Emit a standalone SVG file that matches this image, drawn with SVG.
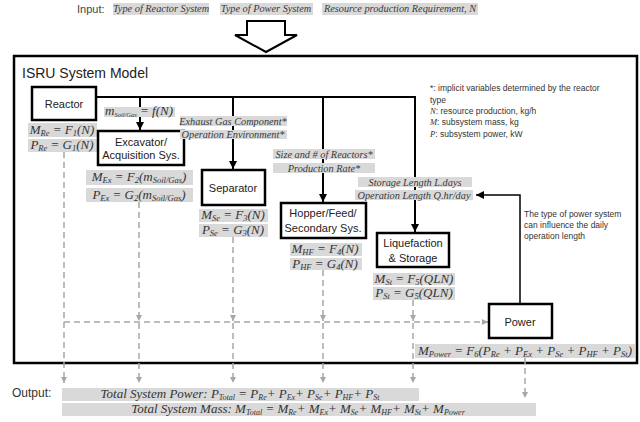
<svg xmlns="http://www.w3.org/2000/svg" width="640" height="422" viewBox="0 0 640 422">
<defs>
<style>
.bx{fill:#fff;stroke:#000;stroke-width:2.5}
.nt{font-family:"Liberation Sans","Open Sans",sans-serif;font-size:11px;fill:#222;text-anchor:middle}
.gl{fill:#d9d9d9}
.f{font-family:"Liberation Serif","DejaVu Serif",serif;font-style:italic;font-size:13px;fill:#333;text-anchor:middle}
.s{font-size:8.5px}
.fs{font-family:"Liberation Serif","DejaVu Serif",serif;font-style:italic;font-size:10.3px;fill:#3a3a3a;text-anchor:middle}
.lg{font-family:"Liberation Sans","Open Sans",sans-serif;font-size:8.5px;fill:#333}
.conn{stroke:#000;stroke-width:2;fill:none}
.dash{stroke:#a6a6a6;stroke-width:1.5;stroke-dasharray:6 4;fill:none}
</style>
<marker id="ah" markerUnits="userSpaceOnUse" markerWidth="8" markerHeight="8" refX="8" refY="4" orient="auto"><path d="M0,0 L8,4 L0,8 z" fill="#000"/></marker>
<marker id="gh" markerUnits="userSpaceOnUse" markerWidth="6" markerHeight="6" refX="6" refY="3" orient="auto"><path d="M0,0 L6,3 L0,6 z" fill="#a6a6a6"/></marker>
</defs>
<rect width="640" height="422" fill="#fff"/>

<g id="input">
<text x="77" y="13" font-family="Liberation Sans, Open Sans, sans-serif" font-size="11" fill="#444">Input:</text>
<rect class="gl" x="113" y="3" width="96" height="12"/>
<text class="fs" x="161" y="12" font-size="9.5">Type of Reactor System</text>
<rect class="gl" x="220" y="3" width="93" height="12"/>
<text class="fs" x="266" y="12" font-size="9.5">Type of Power System</text>
<rect class="gl" x="322" y="3" width="156" height="12"/>
<text class="fs" x="400" y="12" font-size="9.5">Resource production Requirement, N</text>
<path d="M247,21 H285 V35 H297 L266,52 L235,35 H247 Z" fill="#fff" stroke="#000" stroke-width="2"/>
</g>

<g id="model">
<rect x="14" y="56" width="623" height="307" fill="#fff" stroke="#000" stroke-width="2.5"/>
<text x="22" y="78" font-family="Liberation Sans, Open Sans, sans-serif" font-size="14" fill="#222">ISRU System Model</text>
<text class="lg" x="430" y="91">*: implicit variables determined by the reactor</text>
<text class="lg" x="430" y="103">type</text>
<text class="lg" x="430" y="114"><tspan font-family="Liberation Serif, serif" font-style="italic">N</tspan>: resource production, kg/h</text>
<text class="lg" x="430" y="125"><tspan font-family="Liberation Serif, serif" font-style="italic">M</tspan>: subsystem mass, kg</text>
<text class="lg" x="430" y="137"><tspan font-family="Liberation Serif, serif" font-style="italic">P</tspan>: subsystem power, kW</text>
<text class="lg" x="524" y="217">The type of power system</text>
<text class="lg" x="524" y="228">can influence the daily</text>
<text class="lg" x="524" y="239">operation length</text>
</g>

<g id="connectors">
<path class="conn" d="M96,97 H415 V232" marker-end="url(#ah)"/>
<path class="conn" d="M140,97 V130" marker-end="url(#ah)"/>
<path class="conn" d="M233,97 V169" marker-end="url(#ah)"/>
<path class="conn" d="M323,97 V202" marker-end="url(#ah)"/>
<path d="M520,304 V195 H476" fill="none" stroke="#000" stroke-width="1.5" marker-end="url(#ah)"/>
<path class="dash" d="M64,152 V383" marker-end="url(#gh)"/>
<path class="dash" d="M64,322 H488" marker-end="url(#gh)"/>
<path class="dash" d="M139,202 V321" marker-end="url(#gh)"/>
<path class="dash" d="M139,323 V383" marker-end="url(#gh)"/>
<path class="dash" d="M233,237 V321" marker-end="url(#gh)"/>
<path class="dash" d="M233,323 V383" marker-end="url(#gh)"/>
<path class="dash" d="M323,270 V321" marker-end="url(#gh)"/>
<path class="dash" d="M323,323 V383" marker-end="url(#gh)"/>
<path class="dash" d="M413,300 V321" marker-end="url(#gh)"/>
<path class="dash" d="M413,323 V383" marker-end="url(#gh)"/>
<path class="dash" d="M525,358 V398" marker-end="url(#gh)"/>
</g>

<g id="reactor">
<rect class="bx" x="32" y="87" width="64" height="33"/>
<text class="nt" x="64" y="108">Reactor</text>
<rect class="gl" x="28" y="123" width="69" height="14"/>
<text class="f" x="62" y="133.5">M<tspan class="s" dy="2">Re</tspan><tspan dy="-2"> = F</tspan><tspan class="s" dy="2">1</tspan><tspan dy="-2">(N)</tspan></text>
<rect class="gl" x="28" y="139" width="69" height="13"/>
<text class="f" x="62" y="149">P<tspan class="s" dy="2">Re</tspan><tspan dy="-2"> = G</tspan><tspan class="s" dy="2">1</tspan><tspan dy="-2">(N)</tspan></text>
</g>

<g id="soilgas-label">
<rect class="gl" x="104" y="107" width="71" height="10"/>
<text class="f" x="139" y="115" font-size="10">m<tspan font-size="6.5" dy="1.5">Soil/Gas</tspan><tspan dy="-1.5"> = f(N)</tspan></text>
</g>

<g id="excavator">
<rect class="bx" x="98" y="131" width="86" height="34"/>
<text class="nt" x="141" y="146">Excavator/</text>
<text class="nt" x="141" y="159">Acquisition Sys.</text>
<rect class="gl" x="86" y="170" width="107" height="15"/>
<text class="f" x="139" y="181">M<tspan class="s" dy="2">Ex</tspan><tspan dy="-2"> = F</tspan><tspan class="s" dy="2">2</tspan><tspan dy="-2">(m</tspan><tspan class="s" dy="2">Soil/Gas</tspan><tspan dy="-2">)</tspan></text>
<rect class="gl" x="86" y="188" width="107" height="14"/>
<text class="f" x="139" y="198.5">P<tspan class="s" dy="2">Ex</tspan><tspan dy="-2"> = G</tspan><tspan class="s" dy="2">2</tspan><tspan dy="-2">(m</tspan><tspan class="s" dy="2">Soil/Gas</tspan><tspan dy="-2">)</tspan></text>
</g>

<g id="separator">
<rect class="gl" x="180" y="116" width="107" height="10"/>
<text class="fs" x="233" y="124.5">Exhaust Gas Component*</text>
<rect class="gl" x="180" y="130" width="107" height="9"/>
<text class="fs" x="233" y="138">Operation Environment*</text>
<rect class="bx" x="202" y="170" width="63" height="35"/>
<text class="nt" x="233" y="192">Separator</text>
<rect class="gl" x="199" y="209" width="69" height="13"/>
<text class="f" x="233" y="219">M<tspan class="s" dy="2">Se</tspan><tspan dy="-2"> = F</tspan><tspan class="s" dy="2">3</tspan><tspan dy="-2">(N)</tspan></text>
<rect class="gl" x="199" y="224" width="69" height="13"/>
<text class="f" x="233" y="234">P<tspan class="s" dy="2">Se</tspan><tspan dy="-2"> = G</tspan><tspan class="s" dy="2">3</tspan><tspan dy="-2">(N)</tspan></text>
</g>

<g id="hopper">
<rect class="gl" x="273" y="149" width="102" height="10"/>
<text class="fs" x="324" y="157.5">Size and # of Reactors*</text>
<rect class="gl" x="273" y="163" width="102" height="10"/>
<text class="fs" x="324" y="171.5">Production Rate*</text>
<rect class="bx" x="281" y="203" width="85" height="35"/>
<text class="nt" x="323" y="217">Hopper/Feed/</text>
<text class="nt" x="323" y="232">Secondary Sys.</text>
<rect class="gl" x="290" y="243" width="72" height="13"/>
<text class="f" x="325" y="253">M<tspan class="s" dy="2">HF</tspan><tspan dy="-2"> = F</tspan><tspan class="s" dy="2">4</tspan><tspan dy="-2">(N)</tspan></text>
<rect class="gl" x="290" y="258" width="72" height="12"/>
<text class="f" x="325" y="267.5">P<tspan class="s" dy="2">HF</tspan><tspan dy="-2"> = G</tspan><tspan class="s" dy="2">4</tspan><tspan dy="-2">(N)</tspan></text>
</g>

<g id="liquefaction">
<rect class="gl" x="358" y="177" width="114" height="10"/>
<text class="fs" x="415" y="185.5" font-size="10.8">Storage Length L.days</text>
<rect class="gl" x="355" y="190" width="118" height="10"/>
<text class="fs" x="414" y="198.5" font-size="10.8">Operation Length Q.hr/day</text>
<rect class="bx" x="377" y="233" width="72" height="34"/>
<text class="nt" x="413" y="247">Liquefaction</text>
<text class="nt" x="413" y="262">&amp; Storage</text>
<rect class="gl" x="373" y="273" width="82" height="12"/>
<text class="f" x="414" y="282.5">M<tspan class="s" dy="2">St</tspan><tspan dy="-2"> = F</tspan><tspan class="s" dy="2">5</tspan><tspan dy="-2">(QLN)</tspan></text>
<rect class="gl" x="373" y="287" width="82" height="13"/>
<text class="f" x="414" y="297">P<tspan class="s" dy="2">St</tspan><tspan dy="-2"> = G</tspan><tspan class="s" dy="2">5</tspan><tspan dy="-2">(QLN)</tspan></text>
</g>

<g id="power">
<rect class="bx" x="489" y="304" width="63" height="34"/>
<text class="nt" x="520" y="326">Power</text>
<rect class="gl" x="415" y="344" width="220" height="14"/>
<text class="f" x="525" y="354.5" font-size="12.8">M<tspan class="s" dy="2">Power</tspan><tspan dy="-2"> = F</tspan><tspan class="s" dy="2">6</tspan><tspan dy="-2">(P</tspan><tspan class="s" dy="2">Re</tspan><tspan dy="-2"> + P</tspan><tspan class="s" dy="2">Ex</tspan><tspan dy="-2"> + P</tspan><tspan class="s" dy="2">Se</tspan><tspan dy="-2"> + P</tspan><tspan class="s" dy="2">HF</tspan><tspan dy="-2"> + P</tspan><tspan class="s" dy="2">St</tspan><tspan dy="-2">)</tspan></text>
</g>

<g id="output">
<text x="12" y="397" font-family="Liberation Sans, Open Sans, sans-serif" font-size="12" fill="#333">Output:</text>
<rect class="gl" x="62" y="388" width="357" height="13"/>
<text class="f" x="240" y="397.5" font-size="12">Total System Power: P<tspan font-size="8" dy="2">Total</tspan><tspan dy="-2"> = P</tspan><tspan font-size="8" dy="2">Re</tspan><tspan dy="-2">+ P</tspan><tspan font-size="8" dy="2">Ex</tspan><tspan dy="-2">+ P</tspan><tspan font-size="8" dy="2">Se</tspan><tspan dy="-2">+ P</tspan><tspan font-size="8" dy="2">HF</tspan><tspan dy="-2">+ P</tspan><tspan font-size="8" dy="2">St</tspan></text>
<rect class="gl" x="62" y="403" width="474" height="13"/>
<text class="f" x="298" y="412.5" font-size="12">Total System Mass: M<tspan font-size="8" dy="2">Total</tspan><tspan dy="-2"> = M</tspan><tspan font-size="8" dy="2">Re</tspan><tspan dy="-2">+ M</tspan><tspan font-size="8" dy="2">Ex</tspan><tspan dy="-2">+ M</tspan><tspan font-size="8" dy="2">Se</tspan><tspan dy="-2">+ M</tspan><tspan font-size="8" dy="2">HF</tspan><tspan dy="-2">+ M</tspan><tspan font-size="8" dy="2">St</tspan><tspan dy="-2">+ M</tspan><tspan font-size="8" dy="2">Power</tspan></text>
</g>
</svg>
